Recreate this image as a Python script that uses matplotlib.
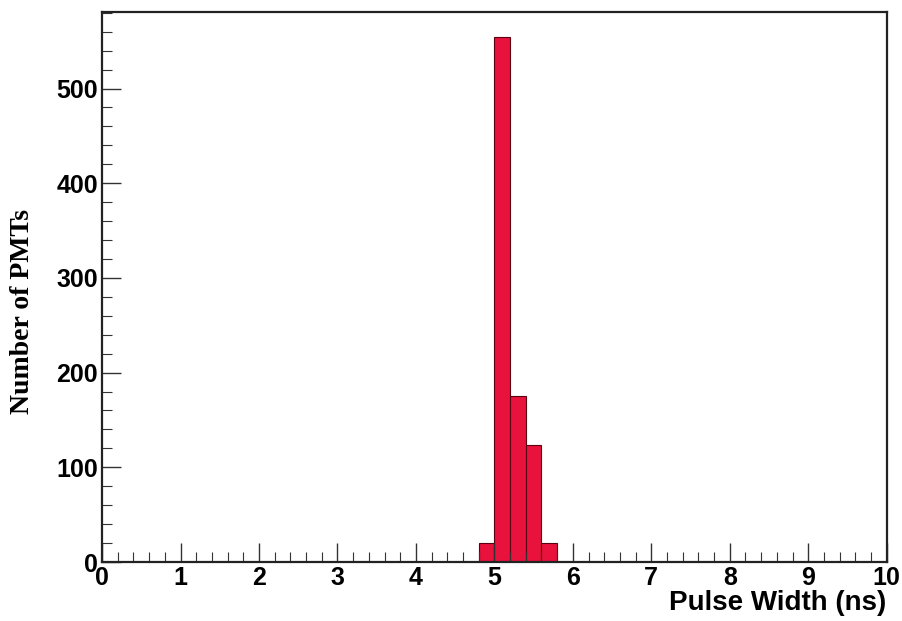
import matplotlib.pyplot as plt
from matplotlib.ticker import MultipleLocator
import numpy as np

# histogram of PMT pulse widths (bin edges in ns, counts per bin)
bin_edges = [4.8, 5.0, 5.2, 5.4, 5.6, 5.8]
counts = [20, 554, 175, 124, 20]

x_ticks = list(range(0, 11))
y_ticks = [0, 100, 200, 300, 400, 500]

fig = plt.figure(figsize=(9.03, 6.21), dpi=100)
ax = fig.add_axes([0.113, 0.095, 0.869, 0.886])

widths = np.diff(bin_edges)
ax.bar(bin_edges[:-1], counts, width=widths, align='edge',
       color='#e8123c', edgecolor='#5a0010', linewidth=0.8)

ax.set_xlim(0, 10)
ax.set_ylim(0, 581)
ax.set_xticks(x_ticks)
ax.set_yticks(y_ticks)
ax.xaxis.set_minor_locator(MultipleLocator(0.2))
ax.yaxis.set_minor_locator(MultipleLocator(20))

ax.tick_params(which='both', direction='in', top=False, right=False, color='#333333')
ax.tick_params(which='major', length=14, width=1.0, pad=3)
ax.tick_params(which='minor', length=7, width=0.8)

for lbl in ax.get_xticklabels() + ax.get_yticklabels():
    lbl.set_fontfamily('Liberation Sans')
    lbl.set_fontweight('bold')
    lbl.set_fontsize(18)

for s in ax.spines.values():
    s.set_linewidth(1.6)
    s.set_color('#222222')

ax.set_xlabel('Pulse Width (ns)', fontfamily='Liberation Sans', fontweight='bold',
              fontsize=20, loc='right', labelpad=0)
ax.set_ylabel('Number of PMTs', fontfamily='Liberation Serif', fontweight='bold',
              fontsize=20)
ax.yaxis.set_label_coords(-0.085, 0.455)

fig.savefig('out.png', dpi=100, facecolor='white')
